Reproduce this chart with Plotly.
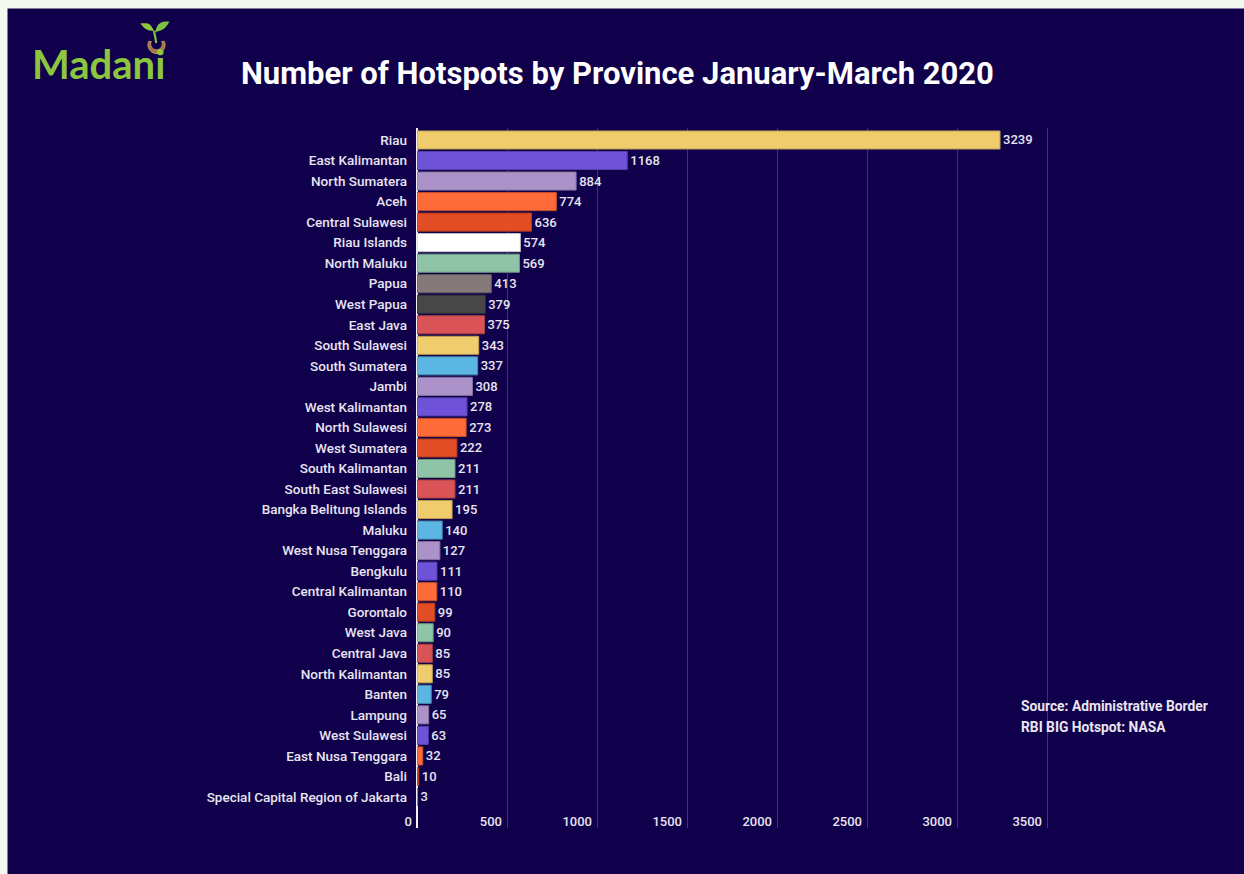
import numpy as np
import plotly.graph_objects as go

# Hotspot counts per province, January-March 2020
provinces = [
    "Riau", "East Kalimantan", "North Sumatera", "Aceh", "Central Sulawesi",
    "Riau Islands", "North Maluku", "Papua", "West Papua", "East Java",
    "South Sulawesi", "South Sumatera", "Jambi", "West Kalimantan",
    "North Sulawesi", "West Sumatera", "South Kalimantan", "South East Sulawesi",
    "Bangka Belitung Islands", "Maluku", "West Nusa Tenggara", "Bengkulu",
    "Central Kalimantan", "Gorontalo", "West Java", "Central Java",
    "North Kalimantan", "Banten", "Lampung", "West Sulawesi",
    "East Nusa Tenggara", "Bali", "Special Capital Region of Jakarta",
]
hotspots = [
    3239, 1168, 884, 774, 636, 574, 569, 413, 379, 375, 343, 337, 308, 278,
    273, 222, 211, 211, 195, 140, 127, 111, 110, 99, 90, 85, 85, 79, 65, 63,
    32, 10, 3,
]
x_ticks = [0, 500, 1000, 1500, 2000, 2500, 3000, 3500]

# Bar fills
YELLOW, PURPLE, LAVENDER, ORANGE = "#f0cc6c", "#6e52d8", "#ab93c9", "#ff6a39"
REDORANGE, WHITE, GREEN, GREY = "#e24d26", "#ffffff", "#8fc5a6", "#85797a"
DARKGREY, RED, BLUE = "#474747", "#d95357", "#5cb6e4"
bar_colors = [
    YELLOW, PURPLE, LAVENDER, ORANGE, REDORANGE, WHITE, GREEN, GREY, DARKGREY,
    RED, YELLOW, BLUE, LAVENDER, PURPLE, ORANGE, REDORANGE, GREEN, RED, YELLOW,
    BLUE, LAVENDER, PURPLE, ORANGE, REDORANGE, GREEN, RED, YELLOW, BLUE,
    LAVENDER, PURPLE, ORANGE, REDORANGE, GREEN,
]


def darken(hex_color, f=0.78):
    h = hex_color.lstrip("#")
    r, g, b = (int(h[i:i + 2], 16) for i in (0, 2, 4))
    return "#%02x%02x%02x" % (int(r * f), int(g * f), int(b * f))


NAVY = "#10004b"
LIGHT = "#f3f8f1"
TEXT = "#e8e5f0"
FONT = "Roboto"

W, H = 1244, 874
L, R, T, B = 417, 1051, 128, 828
PX_PER_UNIT = 0.18
x_max = (R - L) / PX_PER_UNIT


def px(x):
    return (x - L) / (R - L)


def py(y):
    return (B - y) / (B - T)


def path_from(points, closed=True):
    s = "M " + " L ".join(f"{px(x):.5f},{py(y):.5f}" for x, y in points)
    return s + (" Z" if closed else "")


fig = go.Figure(
    go.Bar(
        x=hotspots,
        y=provinces,
        orientation="h",
        marker=dict(color=bar_colors,
                    line=dict(color=[darken(c) for c in bar_colors], width=1)),
        width=0.88,
        text=[str(v) for v in hotspots],
        textposition="outside",
        constraintext="none",
        cliponaxis=False,
        textfont=dict(family=FONT, size=13, color=TEXT, weight=500),
        hoverinfo="x+y",
    )
)

shapes = [
    # light frame strips on the left and top edges
    dict(type="rect", xref="paper", yref="paper", x0=px(0), x1=px(7.5),
         y0=py(H), y1=py(0), fillcolor=LIGHT, line_width=0, layer="below"),
    dict(type="rect", xref="paper", yref="paper", x0=px(0), x1=px(W),
         y0=py(8.5), y1=py(0), fillcolor=LIGHT, line_width=0, layer="below"),
]

# Logo sprout: seed cup and two leaves
cx, cy = 156.5, 45.0
ang = np.linspace(np.radians(-25), np.radians(205), 40)
outer = [(cx + 8.5 * np.cos(a), cy + 8.5 * np.sin(a)) for a in ang]
inner = [(cx + 5.8 * np.cos(a), cy + 5.8 * np.sin(a) - 1.0) for a in ang[::-1]]
shapes.append(dict(type="path", xref="paper", yref="paper",
                   path=path_from(outer + inner), fillcolor="#a5753d",
                   line=dict(color="#c9a06a", width=1), layer="above"))

stem = [(154.0, 31), (154.8, 35), (155.6, 39), (156.2, 43)]
shapes.append(dict(type="path", xref="paper", yref="paper",
                   path=path_from(stem, closed=False),
                   line=dict(color="#7cc242", width=2.2), layer="above"))


def leaf(base, tip, bulge):
    bx, by = base
    tx, ty = tip
    t = np.linspace(0, 1, 16)
    dx, dy = tx - bx, ty - by
    n = np.hypot(dx, dy)
    nx, ny = -dy / n, dx / n
    side1 = [(bx + dx * s + nx * bulge * np.sin(np.pi * s),
              by + dy * s + ny * bulge * np.sin(np.pi * s)) for s in t]
    side2 = [(bx + dx * s - nx * bulge * 0.6 * np.sin(np.pi * s),
              by + dy * s - ny * bulge * 0.6 * np.sin(np.pi * s)) for s in t[::-1]]
    return side1 + side2


shapes.append(dict(type="path", xref="paper", yref="paper",
                   path=path_from(leaf((154, 31), (140.5, 23.5), 3.6)),
                   fillcolor="#8cc63f", line_width=0, layer="above"))
shapes.append(dict(type="path", xref="paper", yref="paper",
                   path=path_from(leaf((155, 32), (169.5, 21.5), -4.2)),
                   fillcolor="#7cc242", line_width=0, layer="above"))

annotations = [
    dict(text="<b>Number of Hotspots by Province January-March 2020</b>",
         xref="paper", yref="paper", x=px(617), y=py(73),
         xanchor="center", yanchor="middle", showarrow=False,
         font=dict(family=FONT, size=31, color="#ffffff")),
    dict(text="Madani", xref="paper", yref="paper", x=px(30), y=py(64),
         xanchor="left", yanchor="middle", showarrow=False,
         font=dict(family="Lato", size=40, color="#8cc63f", weight=700)),
    dict(text="Source: Administrative Border", xref="paper", yref="paper",
         x=px(1019), y=py(706), xanchor="left", yanchor="middle",
         showarrow=False, font=dict(family=FONT, size=13.8, color=TEXT, weight=700)),
    dict(text="RBI BIG Hotspot: NASA", xref="paper", yref="paper",
         x=px(1019), y=py(727), xanchor="left", yanchor="middle",
         showarrow=False, font=dict(family=FONT, size=13.8, color=TEXT, weight=700)),
]

fig.update_layout(
    width=W, height=H,
    margin=dict(l=L, r=W - R, t=T, b=H - B, pad=0),
    paper_bgcolor=NAVY,
    plot_bgcolor=NAVY,
    showlegend=False,
    shapes=shapes,
    annotations=annotations,
    bargap=0.12,
    font=dict(family=FONT, color=TEXT),
)

fig.update_xaxes(
    range=[0, x_max],
    tickvals=x_ticks,
    ticktext=[str(v) for v in x_ticks],
    ticklabelposition="inside left",
    ticklabeloverflow="allow",
    ticklabelstandoff=-7,
    ticklabelshift=-5,
    tickfont=dict(family=FONT, size=13, color=TEXT, weight=500),
    showgrid=True,
    gridcolor="rgba(150,140,210,0.35)",
    gridwidth=1,
    zeroline=True,
    zerolinecolor="#f2f0f8",
    zerolinewidth=2,
    showline=False,
    ticks="",
    automargin=False,
)

fig.update_yaxes(
    categoryorder="array",
    categoryarray=provinces,
    range=[33.51, -0.584],
    tickfont=dict(family=FONT, size=13.5, color=TEXT, weight=500),
    ticks="",
    ticklabelstandoff=9,
    showgrid=False,
    zeroline=False,
    showline=False,
    automargin=False,
)

fig.write_html("out.html")
